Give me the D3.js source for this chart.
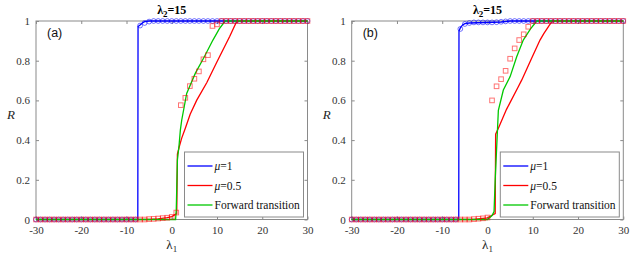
<!DOCTYPE html>
<html>
<head>
<meta charset="utf-8">
<script src="https://cdn.jsdelivr.net/npm/d3@7"></script>
<style>
  body { margin: 0; background: #fff; }
  svg text { font-family: "Liberation Serif", "Times New Roman", serif; }
</style>
</head>
<body>
<script>
// chart values
var xTicks = [-30, -20, -10, 0, 10, 20, 30];
var yTicks = [0, 0.2, 0.4, 0.6, 0.8, 1];
var yTickLabels = ["0", "0.2", "0.4", "0.6", "0.8", "1"];
var legendNames = ["\u03bc=1", "\u03bc=0.5", "Forward transition"];
var panelNames = ["(a)", "(b)"];

// marker x positions: -30..30 step 1
var markerX = d3.range(-30, 31, 1);

// panel (a)
var circlesA = [0,0,0,0,0,0,0,0,0,0, 0,0,0,0,0,0,0,0,0,0, 0,0,0, 0.977,0.99,0.997,1,1,1,1,
  1,1,1,1,1,1,1,1,1,1, 1,1,1,1,1,1,1,1,1,1, 1,1,1,1,1,1,1,1,1,1, 1];
var squaresA = [0,0,0,0,0,0,0,0,0,0, 0,0,0,0,0,0,0,0,0,0, 0,0,0,0,0,0.002,0.003,0.005,0.007,0.009,
  0.013, 0.035,0.576,0.613,0.672,0.709,0.746,0.807,0.828,0.975, 0.983,1,1,1,1,1,1,1,1,1,
  1,1,1,1,1,1,1,1,1,1, 1];
var blueLineA = [[-30,0],[-7.5,0],[-7.45,0.972],[-7,0.98],[-6.5,0.99],[-6,0.997],[-5,1],[30,1]];
var redLineA = [[-30,0],[-5,0],[-3,0.003],[-1,0.009],[0,0.015],[1.1,0.03],[1.25,0.33],[1.7,0.37],
  [2.2,0.41],[3,0.46],[4.07,0.53],[5.5,0.6],[7.76,0.69],[10,0.795],[12.8,0.922],[14.4,1],[30,1]];
var greenLineA = [[-30,0],[0.85,0],[1.0,0.05],[1.25,0.3],[1.6,0.37],[1.9,0.45],[2.2,0.5],[3.3,0.635],
  [5.2,0.736],[7.2,0.82],[9.1,0.904],[10.5,0.96],[11.8,1],[30,1]];

// panel (b)
var circlesB = [0,0,0,0,0,0,0,0,0,0, 0,0,0,0,0,0,0,0,0,0, 0,0,0,0, 0.96,0.985,0.99,0.993,0.993,0.993,
  0.993,0.993,0.994,0.996,0.998,1,1,1,1,1, 1,1,1,1,1,1,1,1,1,1, 1,1,1,1,1,1,1,1,1,1, 1];
var squaresB = [0,0,0,0,0,0,0,0,0,0, 0,0,0,0,0,0,0,0,0,0, 0,0,0,0,0,0,0,0.002,0.004,0.006,
  0.01, 0.6,0.671,0.707,0.749,0.81,0.862,0.904,0.933,0.971, 1,1,1,1,1,1,1,1,1,1,
  1,1,1,1,1,1,1,1,1,1, 1];
var blueLineB = [[-30,0],[-6.35,0],[-6.3,0.95],[-6,0.965],[-5.5,0.98],[-5,0.987],[-4,0.99],[3,0.995],[5,1],[30,1]];
var redLineB = [[-30,0],[-3,0],[0,0.008],[0.9,0.02],[1.7,0.03],[1.8,0.43],[2.4,0.46],[4.2,0.555],
  [6.8,0.669],[7.55,0.702],[9.5,0.8],[11.6,0.904],[12.4,0.935],[14.3,1],[30,1]];
var greenLineB = [[-30,0],[0,0],[1.0,0.02],[1.45,0.04],[1.7,0.2],[2.0,0.35],[2.4,0.55],[3.5,0.652],
  [5.0,0.72],[6.45,0.82],[7.9,0.904],[9.5,0.96],[10.9,1],[30,1]];

var W = 634, H = 257;
var svg = d3.select("body").append("svg").attr("width", W).attr("height", H);

var panels = [
  {left: 36, right: 307.5, name: panelNames[0], circles: circlesA, squares: squaresA,
   lines: [blueLineA, redLineA, greenLineA]},
  {left: 351.7, right: 623.3, name: panelNames[1], circles: circlesB, squares: squaresB,
   lines: [blueLineB, redLineB, greenLineB]}
];
var plotTop = 21, plotBottom = 219.5;
var colors = ["#0000ff", "#ff0000", "#00c800"];

panels.forEach(function (p) {
  var x = d3.scaleLinear().domain([-30, 30]).range([p.left, p.right]);
  var y = d3.scaleLinear().domain([0, 1]).range([plotBottom, plotTop]);
  var g = svg.append("g");
  var axColor = "#8a8a8a";

  // box
  g.append("rect").attr("x", p.left).attr("y", plotTop)
    .attr("width", p.right - p.left).attr("height", plotBottom - plotTop)
    .attr("fill", "none").attr("stroke", axColor).attr("stroke-width", 1);

  // axes (ticks inside)
  var xb = g.append("g").attr("transform", "translate(0," + plotBottom + ")")
    .call(d3.axisBottom(x).tickValues(xTicks).tickSizeInner(-3).tickSizeOuter(0).tickPadding(7)
      .tickFormat(function (d) { return String(d); }));
  var xt = g.append("g").attr("transform", "translate(0," + plotTop + ")")
    .call(d3.axisTop(x).tickValues(xTicks).tickSizeInner(-3).tickSizeOuter(0).tickFormat(""));
  var yl = g.append("g").attr("transform", "translate(" + p.left + ",0)")
    .call(d3.axisLeft(y).tickValues(yTicks).tickSizeInner(-3).tickSizeOuter(0).tickPadding(6)
      .tickFormat(function (d, i) { return yTickLabels[i]; }));
  var yr = g.append("g").attr("transform", "translate(" + p.right + ",0)")
    .call(d3.axisRight(y).tickValues(yTicks).tickSizeInner(-3).tickSizeOuter(0).tickFormat(""));
  [xb, xt, yl, yr].forEach(function (a) {
    a.select(".domain").remove();
    a.selectAll("line").attr("stroke", axColor);
    a.selectAll("text").attr("font-family", "Liberation Serif, serif")
      .attr("font-size", 11).attr("fill", "#333");
  });

  // lines
  var line = d3.line().x(function (d) { return x(d[0]); }).y(function (d) { return y(d[1]); });
  p.lines.forEach(function (ln, i) {
    g.append("path").datum(ln).attr("d", line)
      .attr("fill", "none").attr("stroke", colors[i]).attr("stroke-width", 1.3);
  });

  // markers
  g.selectAll(".circ").data(p.circles).enter().append("circle")
    .attr("class", "circ")
    .attr("cx", function (d, i) { return x(markerX[i]); })
    .attr("cy", function (d) { return y(d); })
    .attr("r", 2.4)
    .attr("fill", "none").attr("stroke", "#0000ff").attr("stroke-opacity", 0.55).attr("stroke-width", 1);
  g.selectAll(".sq").data(p.squares).enter().append("rect")
    .attr("class", "sq")
    .attr("x", function (d, i) { return x(markerX[i]) - 2.3; })
    .attr("y", function (d) { return y(d) - 2.3; })
    .attr("width", 4.6).attr("height", 4.6)
    .attr("fill", "none").attr("stroke", "#ff0000").attr("stroke-opacity", 0.55).attr("stroke-width", 1);

  // panel label
  g.append("text").attr("x", p.left + 11).attr("y", 37)
    .style("font-family", "Liberation Sans, Arial, sans-serif").attr("font-size", 12.5)
    .attr("fill", "#111").text(p.name);

  // title
  var cx = (p.left + p.right) / 2;
  var t = g.append("text").attr("x", cx).attr("y", 14).attr("text-anchor", "middle")
    .attr("font-size", 12).attr("font-weight", "bold").attr("fill", "#000");
  t.append("tspan").text("\u03bb");
  t.append("tspan").attr("dy", 3).attr("font-size", 9).text("2");
  t.append("tspan").attr("dy", -3).text("=15");

  // y label
  g.append("text").attr("x", p.left - 25).attr("y", 119).attr("text-anchor", "middle")
    .attr("font-size", 13).attr("font-style", "italic").attr("fill", "#262626").text("R");

  // x label
  var xl = g.append("text").attr("x", cx).attr("y", 249).attr("text-anchor", "middle")
    .attr("font-size", 13).attr("fill", "#262626");
  xl.append("tspan").text("\u03bb");
  xl.append("tspan").attr("dy", 3).attr("font-size", 9).text("1");

  // legend
  var lx = p.right - 123, ly = 152, lw = 119, lh = 65;
  var lg = g.append("g");
  lg.append("rect").attr("x", lx).attr("y", ly).attr("width", lw).attr("height", lh)
    .attr("fill", "#fff").attr("stroke", axColor).attr("stroke-width", 1);
  legendNames.forEach(function (nm, i) {
    var yy = ly + 14 + i * 19.5;
    lg.append("line").attr("x1", lx + 3).attr("x2", lx + 28).attr("y1", yy).attr("y2", yy)
      .attr("stroke", colors[i]).attr("stroke-width", 1.3);
    var tx = lg.append("text").attr("x", lx + 30).attr("y", yy + 4)
      .attr("font-size", 11.5).attr("fill", "#111");
    if (i < 2) {
      tx.append("tspan").attr("font-style", "italic").text(nm.charAt(0));
      tx.append("tspan").text(nm.slice(1));
    } else {
      tx.text(nm);
    }
  });
});
</script>
</body>
</html>
